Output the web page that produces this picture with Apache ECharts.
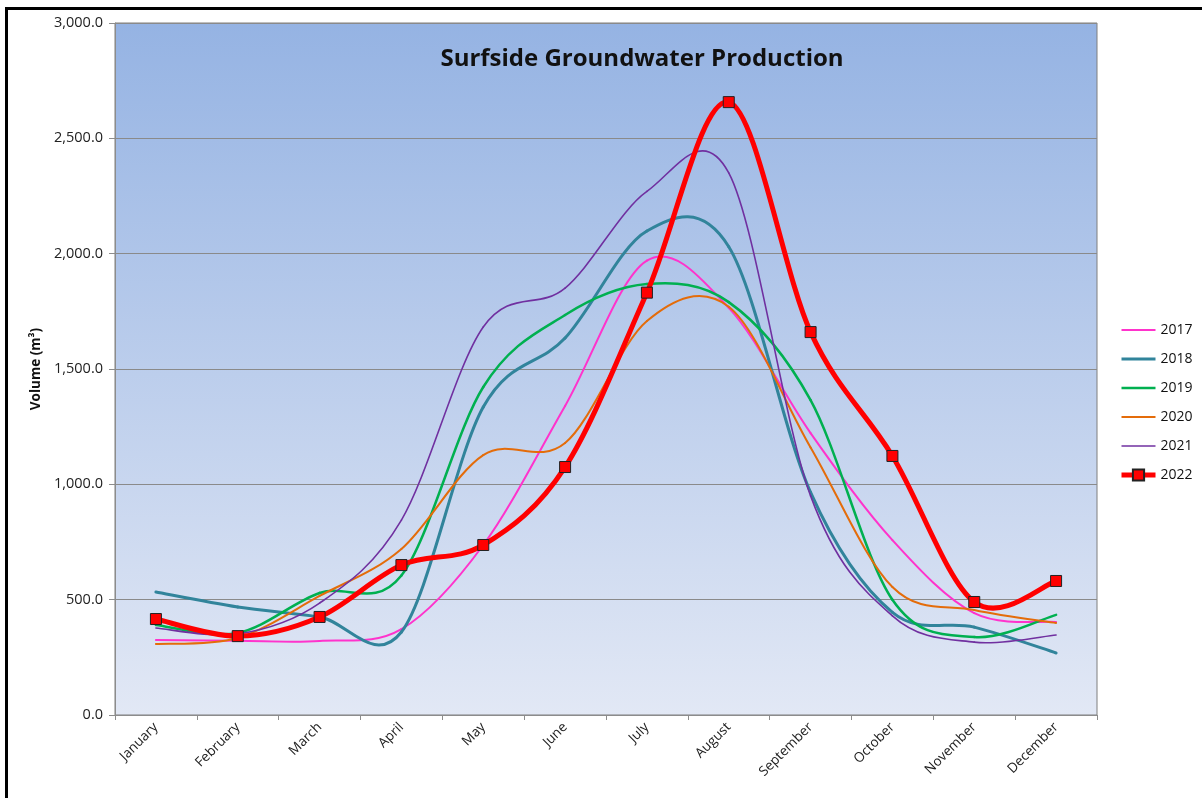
<!DOCTYPE html>
<html>
<head>
<meta charset="utf-8">
<script src="https://cdn.jsdelivr.net/npm/echarts@6/dist/echarts.min.js"></script>
<style>
html,body{margin:0;padding:0;background:#fff;}
#c{width:1202px;height:798px;}
</style>
</head>
<body>
<div id="c"></div>
<script>
const months = ["January","February","March","April","May","June","July","August","September","October","November","December"];
const s2017 = [325, 322, 321, 372, 737, 1340, 1970, 1765, 1222, 758, 442, 403];
const s2018 = [533, 468, 425, 360, 1335, 1634, 2098, 2030, 965, 445, 381, 269];
const s2019 = [390, 356, 529, 605, 1422, 1734, 1868, 1790, 1365, 500, 338, 434];
const s2020 = [308, 334, 516, 720, 1127, 1179, 1708, 1770, 1160, 555, 455, 399];
const s2021 = [377, 351, 485, 845, 1682, 1851, 2270, 2350, 950, 430, 316, 347];
const s2022 = [416, 342, 425, 650, 737, 1075, 1831, 2657, 1660, 1123, 490, 581];
const yTicks = [0, 500, 1000, 1500, 2000, 2500, 3000];

const font = "'Open Sans', 'Noto Sans', sans-serif";
const chart = echarts.init(document.getElementById('c'));

const seriesDefs = [
  {name: '2017', data: s2017, color: '#ff33cc', width: 2},
  {name: '2018', data: s2018, color: '#31849b', width: 3},
  {name: '2019', data: s2019, color: '#00b050', width: 2.5},
  {name: '2020', data: s2020, color: '#e46c0a', width: 2},
  {name: '2021', data: s2021, color: '#7030a0', width: 1.6},
  {name: '2022', data: s2022, color: '#ff0000', width: 5, marker: true}
];

// Excel-style smoothed curve (Catmull-Rom Bezier) through the data points,
// positioned by the chart's own axes via api.coord.
function curveSeries(def) {
  return {
    type: 'custom', name: def.name + ' curve', coordinateSystem: 'cartesian2d',
    data: [0], silent: true, z: 2, clip: false,
    renderItem: function (params, api) {
      const pts = def.data.map((v, i) => api.coord([i, v]));
      const children = [];
      for (let i = 0; i < pts.length - 1; i++) {
        const p0 = pts[i - 1] || pts[i], p1 = pts[i], p2 = pts[i + 1], p3 = pts[i + 2] || pts[i + 1];
        children.push({
          type: 'bezierCurve',
          shape: {
            x1: p1[0], y1: p1[1], x2: p2[0], y2: p2[1],
            cpx1: p1[0] + (p2[0] - p0[0]) / 6, cpy1: p1[1] + (p2[1] - p0[1]) / 6,
            cpx2: p2[0] - (p3[0] - p1[0]) / 6, cpy2: p2[1] - (p3[1] - p1[1]) / 6
          },
          style: {fill: null, stroke: def.color, lineWidth: def.width, lineCap: 'round', lineJoin: 'round'}
        });
      }
      return {type: 'group', children: children};
    }
  };
}

function pointSeries(def) {
  return {
    name: def.name, type: 'line', data: def.data, smooth: false,
    symbol: def.marker ? 'rect' : 'none', showSymbol: !!def.marker, symbolSize: 11,
    lineStyle: {color: def.color, width: def.width, opacity: 0},
    itemStyle: def.marker ? {color: def.color, borderColor: '#222', borderWidth: 1} : {color: def.color},
    emphasis: {disabled: true}, z: 3
  };
}

chart.setOption({
  animation: false,
  backgroundColor: '#ffffff',
  title: {
    text: 'Surfside Groundwater Production',
    left: 637, top: 42, textAlign: 'center',
    textStyle: {fontFamily: font, fontSize: 24, fontWeight: 'bold', color: '#111'}
  },
  graphic: [{
    type: 'rect', left: 4, top: 6, z: 100, silent: true,
    shape: {x: 0, y: 0, width: 1260, height: 860},
    style: {fill: 'none', stroke: '#000', lineWidth: 3}
  }],
  legend: {
    orient: 'vertical', left: 1119, top: 323, itemGap: 15, padding: 0,
    itemWidth: 34, itemHeight: 14,
    textStyle: {fontFamily: font, fontSize: 14, color: '#111'},
    lineStyle: {opacity: 1},
    data: seriesDefs.map(d => ({
      name: d.name,
      lineStyle: {width: d.width, opacity: 1, color: d.color},
      itemStyle: d.marker ? {opacity: 1} : {opacity: 0}
    }))
  },
  grid: {
    left: 115, right: 105, top: 23, bottom: 83,
    show: true, borderColor: '#7f7f7f', borderWidth: 1,
    backgroundColor: new echarts.graphic.LinearGradient(0, 0, 0, 1, [
      {offset: 0, color: '#95b3e3'},
      {offset: 1, color: '#e2e8f5'}
    ])
  },
  xAxis: {
    type: 'category', data: months, boundaryGap: true,
    axisLine: {lineStyle: {color: '#8c8c8c'}},
    axisTick: {show: true, length: 5, lineStyle: {color: '#8c8c8c'}},
    axisLabel: {rotate: 45, fontFamily: font, fontSize: 13.5, color: '#222', margin: 10, interval: 0}
  },
  yAxis: {
    type: 'value', min: yTicks[0], max: yTicks[yTicks.length - 1], interval: 500,
    name: 'Volume (m³)', nameLocation: 'middle', nameRotate: 90, nameGap: 70,
    nameTextStyle: {fontFamily: font, fontSize: 13.5, fontWeight: 'bold', color: '#111'},
    axisLine: {show: true, lineStyle: {color: '#8c8c8c'}},
    axisTick: {show: true, length: 6, lineStyle: {color: '#8c8c8c'}},
    splitLine: {lineStyle: {color: '#8a8a8a', width: 1}},
    axisLabel: {
      fontFamily: font, fontSize: 14.5, color: '#222', margin: 12,
      formatter: v => v.toLocaleString('en-US', {minimumFractionDigits: 1, maximumFractionDigits: 1})
    }
  },
  series: seriesDefs.map(curveSeries).concat(seriesDefs.map(pointSeries))
});
</script>
</body>
</html>
